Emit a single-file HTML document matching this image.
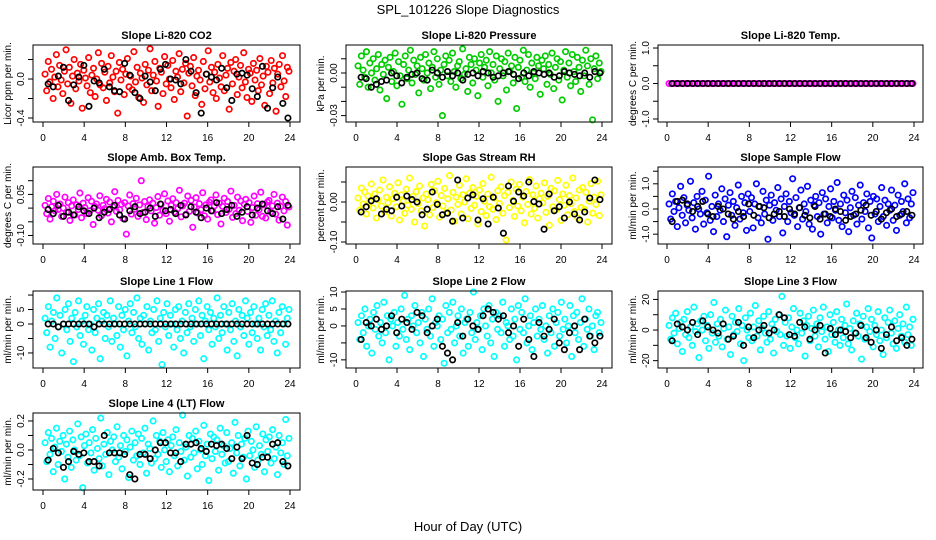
<!DOCTYPE html>
<html><head><meta charset="utf-8"><style>
html,body{margin:0;padding:0;background:#fff}
svg{display:block;font-family:"Liberation Sans",Arial,sans-serif}
</style></head><body>
<svg id="fig" width="936" height="540" viewBox="0 0 936 540">
<text x="468" y="14" text-anchor="middle" font-size="13">SPL_101226  Slope Diagnostics</text>
<text x="468" y="531" text-anchor="middle" font-size="13">Hour of Day (UTC)</text>
</svg>
<script>
const xTicks=[0,4,8,12,16,20,24];
const titles=["Slope Li-820 CO2","Slope Li-820 Pressure","Slope Li-820 Temp.","Slope Amb. Box Temp.","Slope Gas Stream RH","Slope Sample Flow","Slope Line 1 Flow","Slope Line 2 Flow","Slope Line 3 Flow","Slope Line 4 (LT) Flow"];
const yTitles=["Licor ppm per min.","kPa per min.","degrees C per min.","degrees C per min.","percent per min.","ml/min per min.","ml/min per min.","ml/min per min.","ml/min per min.","ml/min per min."];
const colors=["#ff0000","#00cc00","#ff00ff","#ff00ff","#ffff00","#0000ff","#00ffff","#00ffff","#00ffff","#00ffff"];
const yDomains=[[-0.441,0.349],[-0.0345,0.0197],[-1.085,1.085],[-0.131,0.150],[-0.105,0.0875],[-1.39,1.667],[-15.2,11.4],[-12.4,10.3],[-24.8,25.5],[-0.276,0.255]];
const yTickVals=[[-0.4,-0.2,0,0.2],[-0.03,-0.02,-0.01,0,0.01],[-1,-0.5,0,0.5,1],[-0.1,-0.05,0,0.05,0.1],[-0.1,-0.05,0,0.05],[-1,-0.5,0,0.5,1,1.5],[-10,-5,0,5,10],[-10,-5,0,5,10],[-20,-10,0,10,20],[-0.2,-0.1,0,0.1,0.2]];
const yTickLabels=[{"-0.4":"-0.4","0":"0.0"},{"-0.03":"-0.03","0":"0.00"},{"-1":"-1.0","0":"0.0","1":"1.0"},{"-0.1":"-0.10","0.05":"0.05"},{"-0.1":"-0.10","0":"0.00"},{"-1":"-1.0","0":"0.0","1":"1.0"},{"-10":"-10","0":"0","5":"5"},{"-10":"-10","0":"0","5":"5","10":"10"},{"-20":"-20","0":"0","20":"20"},{"-0.2":"-0.2","0":"0.0","0.2":"0.2"}];
const units=[0.01,0.001,1,0.001,0.001,0.01,1,1,1,0.01];
const c1=[5,-12,18,-3,10,-20,2,25,-8,14,-1,-15,8,30,-5,12,-25,3,20,-10,6,-2,15,-30,9,1,-7,22,-14,4,11,-18,0,27,-6,16,-9,7,-22,13,-4,24,2,-13,8,-35,17,-1,10,-16,5,21,-8,3,-11,28,-3,12,-19,6,1,-24,15,-6,9,31,-12,4,18,-2,-28,11,7,-15,23,-5,14,0,-9,19,-21,8,2,26,-13,10,-4,16,-38,6,13,-7,22,-17,3,9,-1,-26,18,-10,5,29,-3,12,-14,7,-20,15,1,-8,24,-12,4,11,-31,17,-5,8,20,-16,2,14,-9,27,-3,-19,10,6,-23,16,-1,9,-12,21,-6,3,-27,13,7,-15,19,-4,11,-33,5,15,-8,24,-2,-18,12,8];
const b1=[-5,-8,3,12,-22,-6,2,14,-28,-2,-4,10,-8,-12,-13,16,4,-14,-20,3,-3,-12,10,15,0,-1,-5,20,8,-14,-35,5,2,-1,11,-9,-22,5,6,4,-10,-18,13,-30,-9,2,-25,-40];
const c2=[5,-8,12,2,-3,15,-10,7,0,10,-5,3,13,-12,6,-1,9,-18,4,11,-6,1,14,-9,8,-2,-22,6,12,-4,2,16,-7,9,-1,5,-14,11,3,-5,13,0,7,-11,4,15,-3,10,-8,2,-30,6,12,-2,9,-6,14,1,-10,5,8,-4,17,-1,3,-13,11,6,-7,10,2,-16,7,13,-3,4,9,-9,15,0,6,-5,12,-20,3,10,-2,8,-12,14,1,5,-7,11,-25,4,9,-3,16,-6,2,13,-10,7,0,-4,11,5,-15,9,3,12,-8,6,-1,14,-11,4,10,-5,8,-19,2,15,-3,7,-9,13,1,-6,11,4,-13,9,-2,16,5,-8,10,-33,3,12,-4,7,1];
const b2=[-3,-4,-10,-8,-6,-5,0,-2,-7,-3,-1,0,-4,-5,2,0,-3,1,-2,0,-5,-1,0,-2,1,0,-3,-2,0,1,-1,-4,0,-2,1,0,-1,0,-3,-2,1,0,-1,-2,0,-3,1,0];
const c3=[0,0,0,0,0,0,0,0,0,0,0,0,0,0,0,0,0,0,0,0,0,0,0,0,0,0,0,0,0,0,0,0,0,0,0,0,0,0,0,0,0,0,0,0,0,0,0,0,0,0,0,0,0,0,0,0,0,0,0,0,0,0,0,0,0,0,0,0,0,0,0,0,0,0,0,0,0,0,0,0,0,0,0,0,0,0,0,0,0,0,0,0,0,0,0,0,0];
const b3=[0,0,0,0,0,0,0,0,0,0,0,0,0,0,0,0,0,0,0,0,0,0,0,0,0,0,0,0,0,0,0,0,0,0,0,0,0,0,0,0,0,0,0,0,0,0,0,0];
const c4=[10,-20,35,-40,5,25,-10,50,-5,15,-30,0,40,-15,20,-45,8,30,-25,12,-5,55,-35,18,2,-20,38,-10,25,-60,6,15,-8,45,-28,10,-2,32,-18,22,-50,4,60,-12,28,-6,14,-38,20,-95,8,48,-22,16,-4,36,-30,12,100,-16,24,-42,6,30,-10,18,-55,2,42,-26,14,-8,52,-20,26,-48,10,34,-14,20,-2,65,-32,8,18,-22,44,-12,28,-70,4,38,-18,16,-6,56,-28,12,-40,22,30,-10,8,48,-24,18,-58,6,36,-16,24,-4,62,-34,10,-20,40,-8,26,-46,14,32,-12,20,-52,2,44,-26,16,-6,58,-30,12,-36,22,28,-14,8,50,-22,18,-44,6,40,-10,24,-62,4];
const b4=[-5,-20,10,-30,-15,-25,5,-10,-20,0,-35,-15,-5,10,-25,-40,-10,5,-20,-15,0,-30,15,-10,-5,-20,10,-25,5,-15,-35,0,-10,20,-20,-5,10,-30,-15,5,-25,0,15,-10,-20,5,-40,10];
const c5=[10,-20,35,-5,25,-30,15,0,45,-15,20,-40,5,30,-10,55,-25,12,-2,38,-35,8,22,-12,48,-45,18,2,-28,32,-8,60,-18,14,-50,26,-4,40,-22,10,-60,20,6,-32,44,-14,28,-2,52,-38,16,-10,34,-26,8,66,-20,24,-48,12,-6,42,-30,18,0,58,-42,22,-16,36,-8,14,-55,30,-24,46,2,-34,20,-12,62,-18,10,-44,28,-4,38,-28,16,-95,24,-14,50,4,-36,32,-10,44,-22,12,-52,26,-6,56,-30,18,-16,40,-40,8,22,-2,48,-26,14,-58,34,-12,28,-20,54,6,-46,20,-8,42,-32,16,-4,60,-24,10,-40,30,-14,36,-18,24,-50,2,46,-28,12,-6,52,-34,18];
const b5=[-25,-12,3,8,-30,-18,-22,12,-10,15,6,0,-32,-18,25,-6,-32,-28,-48,55,-40,10,18,-45,8,-55,12,-15,-78,40,2,25,15,50,1,-5,-68,20,-22,-12,-40,0,-30,-45,-25,10,55,6];
const c6=[20,-40,60,-10,30,-70,5,90,-25,45,-55,15,-5,110,-35,25,-80,50,0,-20,70,-60,35,-15,130,-45,10,-90,55,-30,20,-5,80,-50,40,-110,15,65,-25,30,-65,5,95,-40,50,-15,25,-85,60,-10,45,-75,20,100,-35,10,-55,70,-20,35,-120,15,55,-45,25,-5,85,-30,40,-95,10,60,-50,30,-15,120,-25,45,-70,5,75,-40,20,-10,90,-60,35,-80,15,50,-30,25,-100,65,-20,40,-55,10,80,-35,30,-5,105,-45,20,-70,55,-15,35,-90,5,70,-25,45,-60,15,95,-40,25,-10,60,-75,30,-115,50,-20,40,-50,10,85,-30,35,-65,20,-5,75,-45,15,-85,55,-25,30,-10,100,-55,40,-35,20,65];
const b6=[-50,30,35,20,-10,10,30,-20,-30,10,0,-20,-40,-10,-30,20,-25,10,5,-35,-20,-10,-30,0,-20,5,-25,-35,10,-40,-20,-30,0,-10,-45,-30,-20,-5,15,-25,-10,-40,-15,0,-30,-20,-10,-25];
const c7=[2,-3,6,-8,1,4,-5,9,-1,3,-10,0,5,-2,7,-6,2,-13,4,-1,8,-4,1,-7,3,6,-2,0,-9,5,-3,2,7,-12,1,4,-5,3,-1,8,-6,2,0,-4,6,-8,3,-2,5,-11,1,7,-3,4,-1,9,-5,2,-7,3,0,6,-9,1,-3,5,-2,8,-6,2,-14,4,-1,7,-4,3,0,-8,5,-2,6,-5,1,-10,4,-3,7,-1,2,-6,5,0,8,-4,3,-12,1,6,-2,4,-7,2,-1,9,-5,3,-3,6,0,-9,4,-2,7,-6,1,-11,5,-1,3,-4,8,2,-7,4,-3,6,0,-5,2,-9,5,-1,7,-4,3,-2,8,-6,1,-10,4,-3,6,0,-7,2,5];
const b7=[0,0,-1,0,0,0,0,0,0,-1,0,0,0,0,0,0,0,0,0,0,0,0,0,0,0,0,0,0,0,0,0,0,0,0,0,0,0,0,0,0,0,0,0,0,0,0,0,0];
const c8=[1,-4,3,-2,5,-6,0,2,-8,4,-1,6,-3,1,-5,7,-2,3,-10,2,0,4,-6,1,-3,5,-1,9,-4,2,-7,3,0,6,-2,1,-5,4,-9,2,-1,5,-3,8,-6,1,0,3,-4,2,-11,6,-2,4,-1,7,-5,0,3,-3,5,-8,1,2,-6,4,-2,10,-4,1,-1,3,-7,5,0,-3,6,-5,2,-9,4,-1,3,-2,7,-6,1,0,-4,5,-3,2,-10,6,-1,4,-2,8,-5,0,3,-7,1,5,-3,2,-1,6,-4,0,-8,3,-2,5,-6,1,4,-3,7,-1,2,-5,0,6,-9,3,-2,4,-4,1,8,-6,2,-1,5,-3,0,-7,3,4,-2,1];
const b8=[-4,1,0,2,-1,0,3,-2,2,1,-1,4,3,-2,0,2,-6,-8,-10,1,-3,2,0,-1,3,5,4,2,3,-2,0,-6,2,-4,-9,1,-3,-1,2,-5,-7,-2,0,-7,2,-3,-5,-3];
const c9=[3,-6,8,-2,11,-9,1,5,-14,7,-3,12,-5,2,-10,15,-1,4,-18,6,0,9,-7,3,-12,10,-2,18,-8,4,-4,7,-11,1,13,-6,2,-16,9,-3,5,-1,14,-9,3,-20,8,0,-5,11,-7,2,16,-4,6,-13,1,9,-2,-8,12,-6,4,-15,7,-1,10,-3,22,-10,5,-4,8,-12,2,14,-5,0,-9,11,-2,6,-17,3,9,-7,1,13,-4,4,-11,8,-1,15,-6,2,-14,10,-3,5,-8,12,0,-10,7,-5,3,17,-9,1,-13,6,-2,11,-4,4,-19,9,-6,2,14,-1,7,-11,3,-3,12,-7,0,-16,8,-5,5,13,-2,-9,6,-12,1,10,-4,4,-8,15,-3,2,-10,7];
const b9=[-7,4,2,0,5,-3,6,2,0,-2,4,-6,-4,5,-10,2,-5,0,3,-2,0,10,8,-3,-4,5,2,-6,0,3,-15,1,-3,0,-1,-5,-2,3,-5,-8,0,-12,-3,2,-7,-5,-10,-6];
const c10=[5,-8,12,-3,8,-15,2,15,-10,6,-1,10,-20,4,-5,13,-12,7,0,-7,18,-4,9,-26,3,11,-9,5,-2,14,-14,8,1,-6,22,-11,4,-3,12,-17,6,0,9,-8,16,-5,3,-13,10,-1,7,-19,2,13,-7,5,-4,11,-10,8,-2,15,-16,4,1,-9,20,-6,10,-3,6,-12,12,0,-8,7,-15,3,9,-4,14,-11,5,-1,24,-7,2,-18,10,-5,8,-2,13,-13,6,0,-10,17,-4,4,-21,11,-6,9,-1,7,-14,15,-3,3,-9,12,-8,1,5,-16,19,-2,10,-11,4,-5,8,-20,13,-4,6,0,-12,16,-7,3,-3,11,-15,7,-1,9,-9,14,-6,2,-17,10,-2,5,-10,21,-4,8];
const b10=[-7,1,-2,-12,-8,-1,-3,-2,-8,-8,-11,10,-2,-2,-2,-3,-17,-20,-3,-3,-6,0,5,5,-2,-2,-8,4,4,5,1,-1,4,3,4,1,-6,2,-6,10,-9,-10,-5,-5,4,5,-8,-11];
const colorSeries=[c1,c2,c3,c4,c5,c6,c7,c8,c9,c10];
const blackSeries=[b1,b2,b3,b4,b5,b6,b7,b8,b9,b10];

const NS="http://www.w3.org/2000/svg";
const svg=document.getElementById('fig');
const colBox=[[33,300],[346,612],[658,923]];
const colX0=[43,356,667], colX24=[290,602,914];
const rowTop=[45,167,291,413], boxH=77;
function mk(tag,attrs,parent){const e=document.createElementNS(NS,tag);for(const k in attrs)e.setAttribute(k,attrs[k]);(parent||svg).appendChild(e);return e;}
function slug(s){return s.toLowerCase().replace(/[^a-z0-9]+/g,'-').replace(/^-|-$/g,'');}

for(let p=0;p<10;p++){
  const col=p%3,row=Math.floor(p/3);
  const L=colBox[col][0],R=colBox[col][1],T=rowTop[row],B=T+boxH;
  const xs=h=>colX0[col]+(colX24[col]-colX0[col])*h/24;
  const [ymin,ymax]=yDomains[p];
  const ys=v=>T+(ymax-v)/(ymax-ymin)*boxH;
  const g=mk('g',{});
  
  
  const t=mk('text',{x:(L+R)/2,y:T-6,'text-anchor':'middle','font-size':'11','font-weight':'bold'},g);
  t.textContent=titles[p];
  
  
  const pts=mk('g',{fill:'none','stroke-width':'1.7'},g);
  
  
  const cs=colorSeries[p],n=cs.length;
  for(let pass=0;pass<2;pass++){
    for(let i=pass;i<n;i+=2){
      const h=0.2+23.7*i/(n-1);
      const c=mk('circle',{cx:xs(h),cy:ys(cs[i]*units[p]),r:2.7,stroke:colors[p]},pts);
      
      
    }
  }
  const bs=blackSeries[p],m=bs.length;
  for(let i=0;i<m;i++){
    const h=0.5+23.3*i/(m-1);
    const c=mk('circle',{cx:xs(h),cy:ys(bs[i]*units[p]),r:2.7,stroke:'#000'},pts);
    
    
  }
  const box=mk('rect',{x:L,y:T,width:R-L,height:boxH,fill:'none',stroke:'#000','stroke-width':'1'},g);
  
  
  const xa=mk('g',{},g);
  
  
  mk('line',{x1:xs(0),x2:xs(24),y1:B,y2:B,stroke:'#000'},xa);
  xTicks.forEach(v=>{
    mk('line',{x1:xs(v),x2:xs(v),y1:B,y2:B+5,stroke:'#000'},xa);
    const tl=mk('text',{x:xs(v),y:B+19,'text-anchor':'middle','font-size':'10'},xa);
    tl.textContent=v;
    
    
  });
  const ya=mk('g',{},g);
  
  
  const tv=yTickVals[p];
  mk('line',{x1:L,x2:L,y1:ys(tv[0]),y2:ys(tv[tv.length-1]),stroke:'#000'},ya);
  tv.forEach(v=>{
    mk('line',{x1:L-5,x2:L,y1:ys(v),y2:ys(v),stroke:'#000'},ya);
    const lab=yTickLabels[p][String(v)];
    if(lab!==undefined){
      const tl=mk('text',{x:0,y:0,'text-anchor':'middle','font-size':'10',transform:`translate(${L-9},${ys(v)}) rotate(-90)`},ya);
      tl.textContent=lab;
      
      
    }
  });
  const yt=mk('text',{x:0,y:0,'text-anchor':'middle','font-size':'10',transform:`translate(${L-22},${(T+B)/2}) rotate(-90)`},g);
  yt.textContent=yTitles[p];
  
  
}
</script>
</body></html>
